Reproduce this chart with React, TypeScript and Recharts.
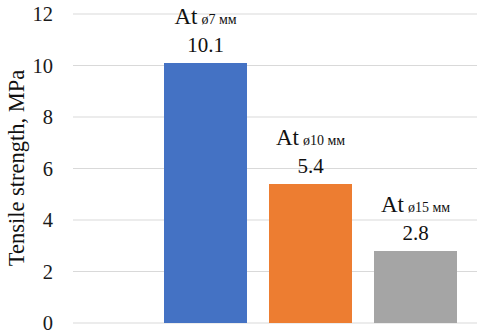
import React from 'react';
import { BarChart, Bar, XAxis, YAxis, CartesianGrid, Cell, LabelList } from 'recharts';

const categories = ['ø7 мм', 'ø10 мм', 'ø15 мм'];
const values = [10.1, 5.4, 2.8];
const colors = ['#4472C4', '#ED7D31', '#A5A5A5'];
const yTicks = [0, 2, 4, 6, 8, 10, 12];
const yLabel = 'Tensile strength, MPa';
const prefix = 'At';

const data = categories.map((c, i) => ({ name: c, value: values[i] }));

const FONT = '"Liberation Serif", "Times New Roman", serif';

const BarLabel = (props: any) => {
  const { x, y, width, index, value } = props;
  const cx = x + width / 2;
  return (
    <g>
      <text x={cx} y={y - 39} textAnchor="middle" style={{ fontFamily: FONT }} fill="#111">
        <tspan style={{ fontSize: 23 }}>{prefix}</tspan>
        <tspan style={{ fontSize: 14 }} dx={4}>{categories[index]}</tspan>
      </text>
      <text x={cx} y={y - 11} textAnchor="middle" style={{ fontFamily: FONT, fontSize: 21 }} fill="#111">
        {value}
      </text>
    </g>
  );
};

const YTick = (props: any) => {
  const { x, y, payload } = props;
  return (
    <text
      x={x}
      y={y}
      dy="0.36em"
      textAnchor="end"
      style={{ fontFamily: FONT, fontSize: 20.5 }}
      fill="#1a1a1a"
    >
      {payload.value}
    </text>
  );
};

const YLabel = () => {
  const cx = 16;
  const cy = 168;
  return (
    <text
      x={cx}
      y={cy}
      transform={`rotate(-90, ${cx}, ${cy})`}
      textAnchor="middle"
      dominantBaseline="central"
      style={{ fontFamily: FONT, fontSize: 22.5 }}
      fill="#111"
    >
      {yLabel}
    </text>
  );
};

export default function App() {
  return (
    <div style={{ position: 'absolute', left: 0, top: 0, background: '#fff', fontFamily: FONT }}>
      <BarChart
        width={480}
        height={336}
        data={data}
        margin={{ top: 14, right: 3, bottom: 13, left: 0 }}
        style={{ fontFamily: FONT }}
      >
        <CartesianGrid vertical={false} stroke="#d9d9d9" strokeWidth={1} />
        <XAxis dataKey="name" hide padding={{ left: 80, right: 9 }} />
        <YAxis
          domain={[0, 12]}
          ticks={yTicks}
          axisLine={false}
          tickLine={false}
          width={73}
          tickMargin={14}
          tick={<YTick />}
          label={<YLabel />}
        />
        <Bar dataKey="value" isAnimationActive={false} barSize={83}>
          {data.map((d, i) => (
            <Cell key={d.name} fill={colors[i]} />
          ))}
          <LabelList dataKey="value" content={<BarLabel />} />
        </Bar>
      </BarChart>
    </div>
  );
}
